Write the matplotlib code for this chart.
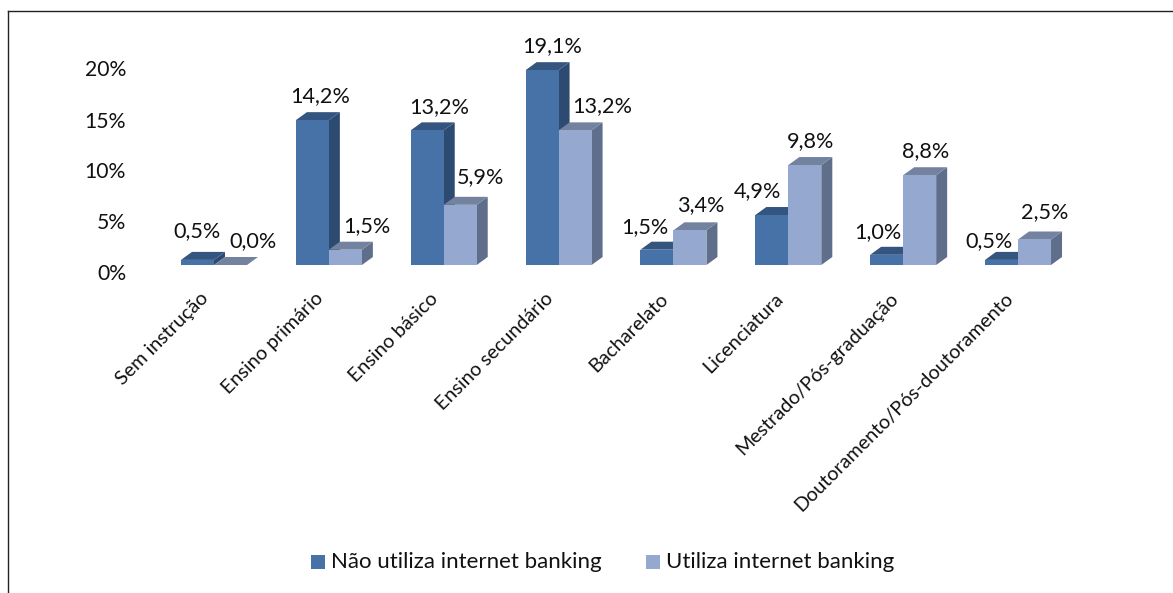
import matplotlib
matplotlib.use("Agg")
import matplotlib.pyplot as plt
from matplotlib.lines import Line2D
from matplotlib.patches import Polygon, Rectangle
from matplotlib.transforms import ScaledTranslation

categories = ["Sem instrução", "Ensino primário", "Ensino básico", "Ensino secundário",
              "Bacharelato", "Licenciatura", "Mestrado/Pós-graduação",
              "Doutoramento/Pós-doutoramento"]
nao_utiliza = [0.5, 14.2, 13.2, 19.1, 1.5, 4.9, 1.0, 0.5]
utiliza = [0.0, 1.5, 5.9, 13.2, 3.4, 9.8, 8.8, 2.5]
y_ticks = [0, 5, 10, 15, 20]
series_names = ["Não utiliza internet banking", "Utiliza internet banking"]

W, H = 1173, 593
DPI = 100
plt.rcParams["font.family"] = ["Lato", "DejaVu Sans"]
TEXT = "#111111"
FS = 15.6

# Label placement relative to the front top centre of each bar, in pixels
nudges_a = [(-0.5, 29), (7.5, 24), (11.5, 23), (10.5, 24), (-12.5, 23), (-14.5, 24), (-8.5, 23), (-12.5, 19)]
nudges_b = [(22.5, 24), (21.5, 24), (20.5, 28), (27.5, 24), (10.5, 25), (5.5, 24), (5.5, 24), (10.5, 27)]

fig = plt.figure(figsize=(W / DPI, H / DPI), dpi=DPI)
fig.patch.set_facecolor("white")

GROUP_PX = 114.86
PX_PER_UNIT = 10.2
BASE_Y = 265.0
left = 214 - GROUP_PX / 2
height_px = 20 * PX_PER_UNIT
ax = fig.add_axes([left / W, 1 - BASE_Y / H, 8 * GROUP_PX / W, height_px / H])
ax.set_xlim(-0.5, 7.5)
ax.set_ylim(0, 20)
ax.patch.set_alpha(0)
for s in ax.spines.values():
    s.set_visible(False)

BAR_W = 33 / GROUP_PX
DEPTH_X = 11 / GROUP_PX
DEPTH_Y = 8 / PX_PER_UNIT


def draw_series(values, offset, front, top, side, nudges):
    for i, v in enumerate(values):
        x0 = i + offset
        x1 = x0 + BAR_W
        ax.add_patch(Polygon([(x1, 0), (x1 + DEPTH_X, DEPTH_Y), (x1 + DEPTH_X, v + DEPTH_Y), (x1, v)],
                             closed=True, fc=side, ec="none", clip_on=False, zorder=2 + i))
        ax.add_patch(Polygon([(x0, v), (x1, v), (x1 + DEPTH_X, v + DEPTH_Y), (x0 + DEPTH_X, v + DEPTH_Y)],
                             closed=True, fc=top, ec="none", clip_on=False, zorder=2 + i))
        ax.bar(x0, v, width=BAR_W, align="edge", color=front, edgecolor="none", zorder=2 + i)
        ax.annotate(f"{v:.1f}%".replace(".", ","), xy=(x0 + BAR_W / 2, v), xytext=nudges[i],
                    textcoords="offset pixels", ha="center", va="center",
                    fontsize=FS, color=TEXT, zorder=30, annotation_clip=False)


DARK = ("#4672A8", "#33557F", "#2D4A70")
LIGHT = ("#95A8D0", "#73829F", "#5F6E8A")
draw_series(nao_utiliza, -BAR_W, *DARK, nudges_a)
draw_series(utiliza, 0, *LIGHT, nudges_b)

ax.set_yticks(y_ticks)
ax.set_yticklabels([f"{t}%" for t in y_ticks], fontsize=15.2, color=TEXT)
ax.tick_params(axis="y", length=0, pad=22)
for lab in ax.get_yticklabels():
    lab.set_transform(lab.get_transform() + ScaledTranslation(0, -7.5 / DPI, fig.dpi_scale_trans))

ax.set_xticks(range(len(categories)))
ax.set_xticklabels(categories, rotation=45, ha="right", va="top", rotation_mode="anchor",
                   fontsize=14.2, color=TEXT)
ax.tick_params(axis="x", length=0, pad=12)
for lab in ax.get_xticklabels():
    lab.set_transform(lab.get_transform() + ScaledTranslation(-14 / DPI, -8 / DPI, fig.dpi_scale_trans))

# Chart frame: the left and top edges fall inside the canvas
for xs, ys in [((7.5, 7.5), (10.5, H)), ((7.5, W), (10.5, 10.5))]:
    fig.add_artist(Line2D([x / W for x in xs], [1 - y / H for y in ys], color="#222222", lw=1))

# Legend drawn by hand to hold the swatch and text spacing
for x, color, name in [(311, "#4672A8", series_names[0]), (646, "#95A8D0", series_names[1])]:
    fig.add_artist(Rectangle((x / W, 1 - 569 / H), 14 / W, 14 / H, transform=fig.transFigure,
                             fc=color, ec="none"))
    fig.text((x + 20) / W, 1 - 562 / H, name, fontsize=16, color=TEXT, ha="left", va="center")

fig.savefig("out.png", dpi=DPI)
